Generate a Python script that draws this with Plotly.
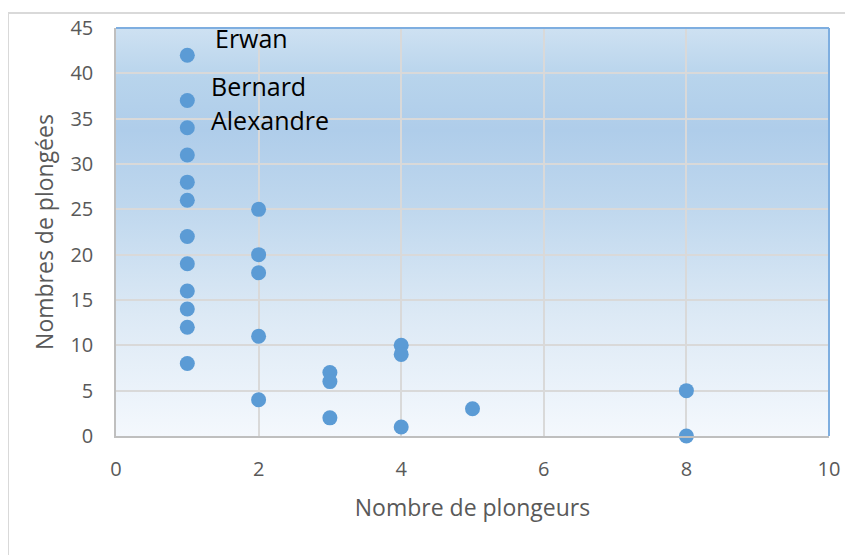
import base64
import plotly.graph_objects as go

# Data
plongeurs = [1, 1, 1, 1, 1, 1, 1, 1, 1, 1, 1, 1,
             2, 2, 2, 2, 2,
             3, 3, 3,
             4, 4, 4,
             5,
             8, 8]
plongees = [42, 37, 34, 31, 28, 26, 22, 19, 16, 14, 12, 8,
            25, 20, 18, 11, 4,
            7, 6, 2,
            10, 9, 1,
            3,
            5, 0]
label_names = ["Erwan", "Bernard", "Alexandre"]
label_index = [0, 1, 2]
x_ticks = [0, 2, 4, 6, 8, 10]
y_ticks = [0, 5, 10, 15, 20, 25, 30, 35, 40, 45]

# label offsets (px) – style
label_xshift = [26, 22, 22]
label_yshift = [17, 15, 8]

OFF = 8  # page body margin
W, H = 853 - OFF, 555 - OFF
ML, MR, MT, MB = 116 - OFF, 24, 28 - OFF, 119
PW, PH = W - ML - MR, H - MT - MB

def px_x(p):
    return (p - OFF - ML) / PW

def px_y(p):
    return (H - MB - (p - OFF)) / PH

grad = ('<svg xmlns="http://www.w3.org/2000/svg" viewBox="0 0 100 100" width="100" height="100" '
        'preserveAspectRatio="none"><defs><linearGradient id="g" x1="0" y1="0" x2="0" y2="1">'
        '<stop offset="0" stop-color="#cee1f2"/>'
        '<stop offset="0.12" stop-color="#b8d4ec"/>'
        '<stop offset="0.25" stop-color="#afcdea"/>'
        '<stop offset="0.45" stop-color="#c0d8ee"/>'
        '<stop offset="0.7" stop-color="#dce9f5"/>'
        '<stop offset="1" stop-color="#f4f8fd"/>'
        '</linearGradient></defs><rect x="0" y="0" width="100" height="100" fill="url(#g)"/></svg>')
src = "data:image/svg+xml;base64," + base64.b64encode(grad.encode()).decode()

fig = go.Figure()
fig.add_trace(go.Scatter(
    x=plongeurs, y=plongees, mode="markers",
    marker=dict(size=15, color="#5b9bd5"),
    cliponaxis=False, hoverinfo="x+y", showlegend=False,
))

annotations = []
for name, idx, dx, dy in zip(label_names, label_index, label_xshift, label_yshift):
    annotations.append(dict(
        x=plongeurs[idx], y=plongees[idx], xref="x", yref="y",
        text=name, showarrow=False, xanchor="left", yanchor="middle",
        xshift=dx, yshift=dy,
        font=dict(family="Open Sans", size=25, color="#000000"),
    ))

shapes = [
    # outer chart frame (left & top)
    dict(type="line", xref="paper", yref="paper", x0=px_x(8), x1=px_x(8), y0=px_y(13), y1=px_y(560),
         line=dict(color="#d9d9d9", width=2)),
    dict(type="line", xref="paper", yref="paper", x0=px_x(8), x1=px_x(860), y0=px_y(13), y1=px_y(13),
         line=dict(color="#d9d9d9", width=2)),
    # plot area border top & right (blue)
    dict(type="line", xref="paper", yref="paper", x0=0, x1=1, y0=1, y1=1,
         line=dict(color="#7eaee0", width=2)),
    dict(type="line", xref="paper", yref="paper", x0=1, x1=1, y0=0, y1=1,
         line=dict(color="#7eaee0", width=2)),
]

fig.update_layout(
    width=W, height=H,
    margin=dict(l=ML, r=MR, t=MT, b=MB, pad=0, autoexpand=False),
    paper_bgcolor="#ffffff",
    plot_bgcolor="rgba(0,0,0,0)",
    font=dict(family="Open Sans", color="#595959"),
    images=[dict(source=src, xref="x", yref="y", x=0, y=45, sizex=10, sizey=45,
                 xanchor="left", yanchor="top", sizing="stretch", layer="below")],
    annotations=annotations,
    shapes=shapes,
    xaxis=dict(
        range=[0, 10], tickvals=x_ticks, ticktext=[str(v) for v in x_ticks],
        showgrid=True, gridcolor="#d9d9d9", gridwidth=1.5,
        showline=True, linecolor="#bfbfbf", linewidth=1.5,
        zeroline=False, ticks="", ticklabelstandoff=14, automargin=False,
        tickfont=dict(size=20, color="#595959"),
        title=dict(text="Nombre de plongeurs", font=dict(size=23, color="#595959"), standoff=19),
    ),
    yaxis=dict(
        range=[0, 45], tickvals=y_ticks, ticktext=[str(v) for v in y_ticks],
        showgrid=True, gridcolor="#d9d9d9", gridwidth=1.5,
        showline=True, linecolor="#bfbfbf", linewidth=1.5,
        zeroline=False, ticks="", ticklabelstandoff=17, automargin=False,
        tickfont=dict(size=20, color="#595959"),
        title=dict(text="Nombres de plongées", font=dict(size=23, color="#595959"), standoff=10),
    ),
)

fig.write_html("out.html")
